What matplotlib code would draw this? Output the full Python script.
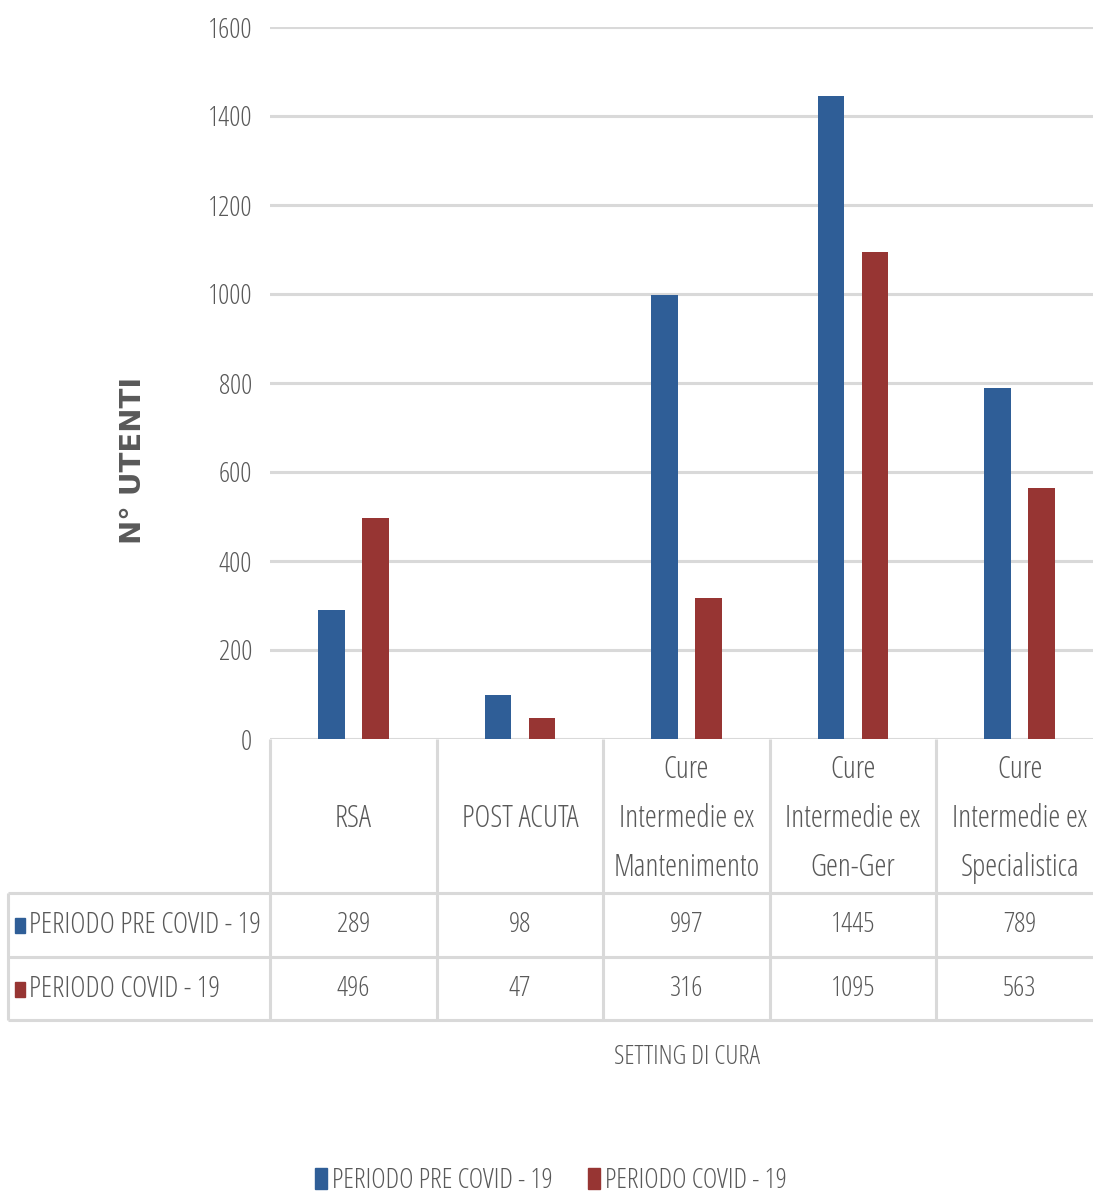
import numpy as np
import matplotlib
matplotlib.use("Agg")
import matplotlib.pyplot as plt
from matplotlib.lines import Line2D
from matplotlib.patches import Patch, Rectangle
from matplotlib.transforms import blended_transform_factory

categories = ["RSA", "POST ACUTA", "Cure\nIntermedie ex\nMantenimento",
              "Cure\nIntermedie ex\nGen-Ger", "Cure\nIntermedie ex\nSpecialistica"]
series_names = ["PERIODO PRE COVID - 19", "PERIODO COVID - 19"]
pre_covid = [289, 98, 997, 1445, 789]
covid = [496, 47, 316, 1095, 563]
y_ticks = [0, 200, 400, 600, 800, 1000, 1200, 1400, 1600]

BLUE = "#2f5e97"
RED = "#973533"
GRID = "#d9d9d9"
TEXT = "#595959"
FONT = dict(family="Open Sans", stretch="condensed", weight="light")

W, H = 1093, 1198


def fy(py):
    """Pixel row (from top) to figure fraction."""
    return 1 - py / H


def fx(px):
    return px / W


fig = plt.figure(figsize=(W / 100, H / 100), dpi=100)
fig.set_facecolor("white")

ax = fig.add_axes([fx(270), fy(739), fx(1103) - fx(270), fy(27) - fy(739)])
x = np.arange(len(categories))
bw = 0.16
ax.bar(x - 0.132, pre_covid, bw, color=BLUE, zorder=3)
ax.bar(x + 0.132, covid, bw, color=RED, zorder=3)

ax.set_xlim(-0.5, len(categories) - 0.5)
ax.set_ylim(0, 1600)
ax.set_yticks(y_ticks)
ax.set_xticks([])
ax.grid(axis="y", color=GRID, linewidth=2.2, zorder=0)
for s in ax.spines.values():
    s.set_visible(False)
ax.tick_params(axis="y", length=0, pad=13, labelcolor=TEXT)
for lab in ax.get_yticklabels():
    lab.set_fontproperties(dict(FONT, size=20))

# data table under the plot: columns follow the bar axis
colx = blended_transform_factory(ax.transData, fig.transFigure)
line_kw = dict(color=GRID, linewidth=2.2, solid_capstyle="butt")

for i in range(len(categories) + 1):
    fig.add_artist(Line2D([i - 0.5, i - 0.5], [fy(739), fy(1020)],
                          transform=colx, **line_kw))
for py in (893, 957, 1020):
    fig.add_artist(Line2D([fx(8), 1.02], [fy(py), fy(py)],
                          transform=fig.transFigure, **line_kw))
fig.add_artist(Line2D([fx(8), fx(8)], [fy(893), fy(1020)],
                      transform=fig.transFigure, **line_kw))

for i, cat in enumerate(categories):
    fig.text(i, fy(819), cat, transform=colx, ha="center", va="center",
             color=TEXT, linespacing=1.7, **FONT, size=22)

rows = [(pre_covid, BLUE, 925), (covid, RED, 989)]
for (vals, col, py), name in zip(rows, series_names):
    for i, v in enumerate(vals):
        fig.text(i, fy(py), str(v), transform=colx, ha="center", va="center",
                 color=TEXT, **FONT, size=20)
    fig.add_artist(Rectangle((fx(15), fy(py + 8)), fx(10), fy(py - 7) - fy(py + 8),
                             transform=fig.transFigure, color=col))
    fig.text(fx(29), fy(py), name, ha="left", va="center",
             color=TEXT, **FONT, size=21)

fig.text((fx(270) + fx(1103)) / 2, fy(1057), "SETTING DI CURA", ha="center",
         va="center", color=TEXT, **FONT, size=19)

fig.text(fx(133), fy(460), "N° UTENTI", rotation=90, ha="center", va="center",
         color=TEXT, family="DejaVu Sans", weight="bold", size=21)

handles = [Patch(color=BLUE), Patch(color=RED)]
leg = fig.legend(handles, series_names, ncol=2, loc="center",
                 bbox_to_anchor=(fx(551), fy(1181)), frameon=False,
                 handlelength=0.43, handleheight=0.8, handletextpad=0.18,
                 columnspacing=1.3, prop=dict(FONT, size=20))
for t in leg.get_texts():
    t.set_color(TEXT)

fig.savefig("out.png", dpi=100, facecolor="white")
plt.close(fig)
